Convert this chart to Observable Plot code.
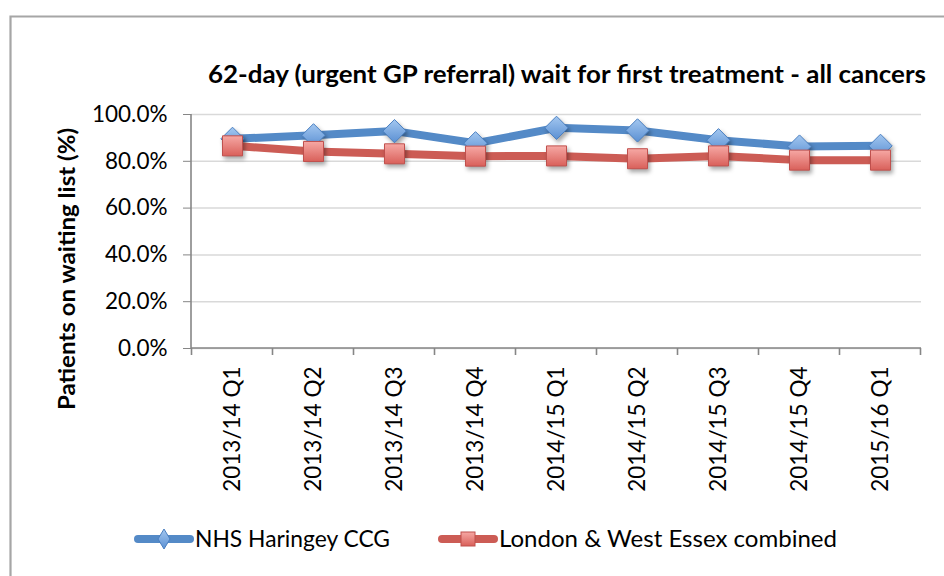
<!DOCTYPE html>
<html><head><meta charset="utf-8">
<script src="https://cdn.jsdelivr.net/npm/d3@7"></script>
<script src="https://cdn.jsdelivr.net/npm/@observablehq/plot@0.6"></script>
<style>
html,body{margin:0;padding:0;background:#fff;}
#chart{width:944px;height:576px;position:relative;overflow:hidden;background:#fff;}
</style></head><body><div id="chart"></div>
<script>
// ---- data ----
const quarters = ["2013/14 Q1","2013/14 Q2","2013/14 Q3","2013/14 Q4","2014/15 Q1","2014/15 Q2","2014/15 Q3","2014/15 Q4","2015/16 Q1"];
const haringey = [89.6, 91.1, 92.9, 87.7, 94.3, 93.2, 89.0, 86.3, 86.6];
const londonWestEssex = [86.6, 84.2, 83.2, 82.2, 82.3, 81.1, 82.3, 80.5, 80.5];
const yTicks = [0, 20, 40, 60, 80, 100];
const seriesNames = ["NHS Haringey CCG", "London & West Essex combined"];
const titleText = "62-day (urgent GP referral) wait for first treatment - all cancers";
const yTitleText = "Patients on waiting list (%)";

// ---- styles ----
const FONT = "Lato, 'Open Sans', sans-serif";
const BLUE = "#548ac7", RED = "#cc5c55";

const rowsH = quarters.map((q, i) => ({quarter: q, value: haringey[i]}));
const rowsL = quarters.map((q, i) => ({quarter: q, value: londonWestEssex[i]}));

function defs() {
  const d = d3.create("svg:defs");
  const gb = d.append("linearGradient").attr("id", "gBlue").attr("x1", 0).attr("y1", 0).attr("x2", 0).attr("y2", 1);
  gb.append("stop").attr("offset", "0%").attr("stop-color", "#a3c7f0");
  gb.append("stop").attr("offset", "100%").attr("stop-color", "#5b90d3");
  const gr = d.append("linearGradient").attr("id", "gRed").attr("x1", 0).attr("y1", 0).attr("x2", 0).attr("y2", 1);
  gr.append("stop").attr("offset", "0%").attr("stop-color", "#f6a8a4");
  gr.append("stop").attr("offset", "100%").attr("stop-color", "#d9605a");
  return d.node();
}

function axisLines(index, scales, values, dims) {
  const {x, y} = scales;
  const g = d3.create("svg:g").attr("stroke", "#868686").attr("stroke-width", 1.6).attr("fill", "none");
  const left = dims.marginLeft, right = dims.width - dims.marginRight;
  const y0 = y(0), y1 = y(100);
  g.append("line").attr("x1", left).attr("x2", left).attr("y1", y0).attr("y2", y1);
  g.append("line").attr("x1", left).attr("x2", right).attr("y1", y0).attr("y2", y0);
  const step = x(quarters[1]) - x(quarters[0]);
  for (let b = 0; b <= quarters.length; b++) {
    const bx = x(quarters[0]) - step / 2 + b * step;
    g.append("line").attr("x1", bx).attr("x2", bx).attr("y1", y0).attr("y2", y0 + 7);
  }
  return g.node();
}

function decor(index, scales, values, dims) {
  const g = d3.create("svg:g").attr("font-family", FONT).attr("fill", "#000").attr("text-anchor", "start");
  // frame border
  g.append("path").attr("d", `M10.5,${dims.height} V16.5 H${dims.width}`)
    .attr("fill", "none").attr("stroke", "#a6a6a6").attr("stroke-width", 2.2);
  // title
  g.append("text").attr("x", 208).attr("y", 83).attr("font-size", 24).attr("font-weight", "bold")
    .attr("text-anchor", "start")
    .attr("textLength", 718).attr("lengthAdjust", "spacingAndGlyphs").text(titleText);
  // y title
  g.append("text").attr("transform", "translate(75,269) rotate(-90)").attr("text-anchor", "middle")
    .attr("font-size", 22).attr("font-weight", "bold")
    .attr("textLength", 282).attr("lengthAdjust", "spacingAndGlyphs").text(yTitleText);
  // legend
  const ly = 539;
  const l1 = g.append("g");
  l1.append("line").attr("x1", 138).attr("x2", 190).attr("y1", ly).attr("y2", ly)
    .attr("stroke", BLUE).attr("stroke-width", 8).attr("stroke-linecap", "round");
  l1.append("path").attr("d", `M164,${ly - 10} L170,${ly} L164,${ly + 10} L158,${ly} Z`)
    .attr("fill", "url(#gBlue)").attr("stroke", "#4a7fc0").attr("stroke-width", 1);
  l1.append("text").attr("x", 195).attr("y", ly + 8).attr("font-size", 22.5).attr("text-anchor", "start")
    .attr("textLength", 195).attr("lengthAdjust", "spacingAndGlyphs").text(seriesNames[0]);
  const l2 = g.append("g");
  l2.append("line").attr("x1", 442).attr("x2", 494).attr("y1", ly).attr("y2", ly)
    .attr("stroke", RED).attr("stroke-width", 8).attr("stroke-linecap", "round");
  l2.append("rect").attr("x", 461).attr("y", ly - 7).attr("width", 14).attr("height", 14)
    .attr("fill", "url(#gRed)").attr("stroke", "#c0504d").attr("stroke-width", 1);
  l2.append("text").attr("x", 499).attr("y", ly + 8).attr("font-size", 22.5).attr("text-anchor", "start")
    .attr("textLength", 338).attr("lengthAdjust", "spacingAndGlyphs").text(seriesNames[1]);
  return g.node();
}

const plot = Plot.plot({
  width: 944, height: 576,
  marginTop: 114, marginRight: 23, marginBottom: 228, marginLeft: 191,
  style: {fontFamily: FONT, background: "#fff", color: "#000", overflow: "visible"},
  x: {type: "point", domain: quarters, padding: 0.5},
  y: {domain: [0, 100]},
  marks: [
    defs,
    decor,
    Plot.gridY(yTicks, {stroke: "#d9d9d9", strokeOpacity: 1, strokeWidth: 1.5}),
    Plot.axisY(yTicks, {tickFormat: d => d.toFixed(1) + "%", tickSize: 8, tickPadding: 16, stroke: "#868686", fill: "#000", fontSize: 22.5, label: null}),
    Plot.axisX({tickRotate: -90, tickSize: 0, tickPadding: 18, fontSize: 22.5, fill: "#000", label: null}),
    axisLines,
    Plot.line(rowsH, {x: "quarter", y: "value", stroke: BLUE, strokeWidth: 8, strokeLinejoin: "round", strokeLinecap: "round"}),
    Plot.dot(rowsH, {x: "quarter", y: "value", symbol: "diamond2", r: 10.5, fill: "url(#gBlue)", stroke: "#4a7fc0", strokeWidth: 1}),
    Plot.line(rowsL, {x: "quarter", y: "value", stroke: RED, strokeWidth: 8, strokeLinejoin: "round", strokeLinecap: "round"}),
    Plot.dot(rowsL, {x: "quarter", y: "value", symbol: "square", r: 11.3, fill: "url(#gRed)", stroke: "#c0504d", strokeWidth: 1})
  ]
});
d3.select(plot).selectAll('g[aria-label="dot"]').style("filter", "drop-shadow(2px 3px 2px rgba(0,0,0,0.35))");
document.getElementById("chart").appendChild(plot);
</script>
</body></html>
